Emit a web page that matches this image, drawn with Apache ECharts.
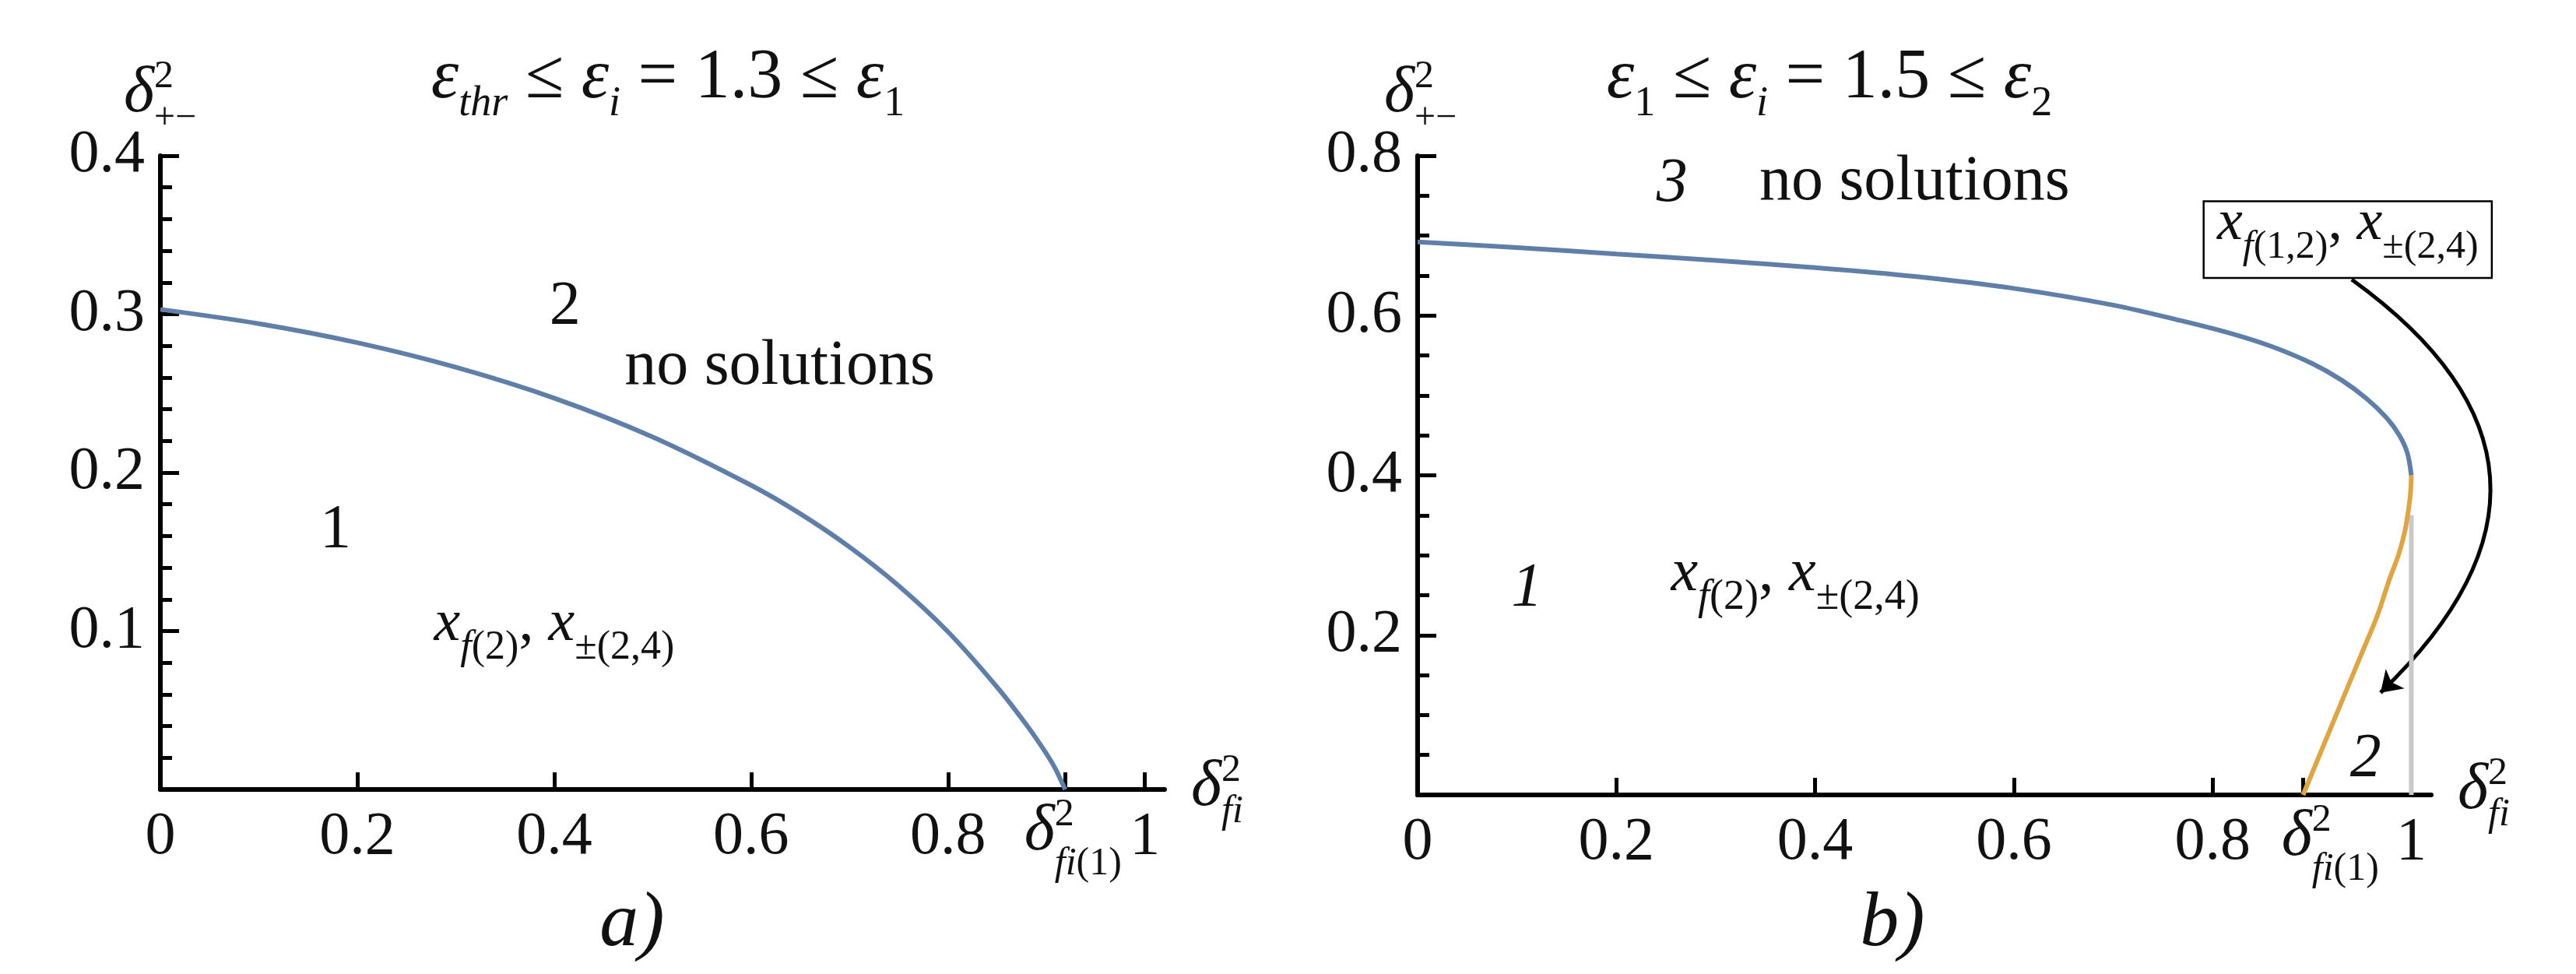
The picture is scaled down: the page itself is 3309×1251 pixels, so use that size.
<!DOCTYPE html>
<html>
<head>
  <meta charset="utf-8">
  <title>delta diagrams</title>
  <script src="https://cdn.jsdelivr.net/npm/echarts@6.0.0/dist/echarts.min.js"></script>
  <style>
    html, body { margin: 0; padding: 0; background: #fff; }
    #main { width: 3309px; height: 1251px; }
  </style>
</head>
<body>
<div id="main"></div>
<script>
  // panel a)  eps_i = 1.3 : border of region 1
  var aCurveX = [0, 0.1, 0.2, 0.3, 0.4, 0.5, 0.6, 0.65, 0.7, 0.75, 0.8, 0.85, 0.88, 0.9, 0.91, 0.919];
  var aCurveY = [0.303, 0.294, 0.282, 0.2665, 0.247, 0.2225, 0.192, 0.174, 0.153, 0.1285, 0.0995, 0.0645, 0.0405, 0.0225, 0.012, 0];

  // panel b)  eps_i = 1.5 : upper (blue), lower (orange) and edge (gray) borders
  var bUpperX = [0, 0.1, 0.2, 0.3, 0.4, 0.5, 0.6, 0.7, 0.77, 0.82, 0.86, 0.9, 0.93, 0.955, 0.975, 0.988, 0.996, 1.0];
  var bUpperY = [0.692, 0.685, 0.677, 0.669, 0.660, 0.649, 0.634, 0.613, 0.593, 0.577, 0.561, 0.540, 0.519, 0.496, 0.472, 0.450, 0.428, 0.40];
  var bLowerX = [0.891, 0.906, 0.921, 0.936, 0.951, 0.966, 0.978, 0.987, 0.9935, 0.9975, 0.9993, 1.0];
  var bLowerY = [0, 0.045, 0.09, 0.135, 0.18, 0.225, 0.27, 0.30, 0.33, 0.36, 0.38, 0.40];
  var bEdgeX = [1, 1];
  var bEdgeY = [0, 0.35];

  // arrow from the boxed label into region 2 (data coords of panel b)
  var arrowFrom = [0.94, 0.645];
  var arrowTo = [0.969, 0.128];

  var xTickLabels = [0, 0.2, 0.4, 0.6, 0.8, 1];

  var FONT = 'Liberation Serif';
  var BLUE = '#5F7FA8', ORANGE = '#DDA545', GRAY = '#C9C9C9';

  function zip(xs, ys) {
    return xs.map(function (x, i) { return [x, ys[i]]; });
  }

  function mkX(g, deltaTick) {
    return {
      type: 'value', gridIndex: g, min: 0, max: 1.02,
      axisLine: { onZero: false, lineStyle: { color: '#000', width: 6 } },
      axisTick: {
        inside: true, length: 22, lineStyle: { color: '#000', width: 5 },
        customValues: [0.2, 0.4, 0.6, 0.8, deltaTick, 1]
      },
      axisLabel: {
        customValues: xTickLabels, fontFamily: FONT, fontSize: 78, color: '#111', margin: 23,
        formatter: function (v) { return String(+(+v).toFixed(2)); }
      },
      splitLine: { show: false }
    };
  }

  function mkY(g, max, step, minor) {
    return {
      type: 'value', gridIndex: g, min: 0, max: max, interval: step,
      axisLine: { show: true, onZero: false, lineStyle: { color: '#000', width: 6 } },
      axisTick: { show: true, inside: true, length: 24, lineStyle: { color: '#000', width: 5 } },
      minorTick: { show: true, splitNumber: minor, length: 15, lineStyle: { color: '#000', width: 5 } },
      axisLabel: {
        showMinLabel: false, fontFamily: FONT, fontSize: 78, color: '#111', margin: 20,
        formatter: function (v) { return String(+(+v).toFixed(2)); }
      },
      splitLine: { show: false }
    };
  }

  var chart = echarts.init(document.getElementById('main'));

  var option = {
    animation: false,
    backgroundColor: '#fff',
    textStyle: { fontFamily: FONT },
    grid: [
      { left: 206, top: 200, width: 1290, height: 814 },
      { left: 1821, top: 200, width: 1302, height: 821 }
    ],
    xAxis: [mkX(0, aCurveX[aCurveX.length - 1]), mkX(1, bLowerX[0])],
    yAxis: [mkY(0, 0.4, 0.1, 5), mkY(1, 0.8, 0.2, 4)],
    series: [
      {
        type: 'line', xAxisIndex: 0, yAxisIndex: 0, data: zip(aCurveX, aCurveY),
        showSymbol: false, smooth: 0.3, lineStyle: { color: BLUE, width: 6 }
      },
      {
        type: 'line', xAxisIndex: 1, yAxisIndex: 1, data: zip(bEdgeX, bEdgeY),
        showSymbol: false, lineStyle: { color: GRAY, width: 6 }
      },
      {
        type: 'line', xAxisIndex: 1, yAxisIndex: 1, data: zip(bLowerX, bLowerY),
        showSymbol: false, smooth: 0.3, lineStyle: { color: ORANGE, width: 6 }
      },
      {
        type: 'line', xAxisIndex: 1, yAxisIndex: 1, data: zip(bUpperX, bUpperY),
        showSymbol: false, smooth: 0.3, lineStyle: { color: BLUE, width: 6 }
      },
      {
        type: 'lines', coordinateSystem: 'cartesian2d', xAxisIndex: 1, yAxisIndex: 1,
        clip: false, symbol: ['none', 'arrow'], symbolSize: 26,
        lineStyle: { color: '#000', width: 5, curveness: 0.6, opacity: 1 },
        data: [{ coords: [arrowFrom, arrowTo] }]
      }
    ]
  };
  chart.setOption(option);

  // ---- math-like text built from runs (base / sup / sub) ----
  var meas = document.createElement('canvas').getContext('2d');

  function mathText(p, runs, anchor) {
    var kids = [], cx = 0, start = 0, right = 0;
    runs.forEach(function (r) {
      var s = r.s || 80;
      if (r.stack) { cx = start; } else { cx = Math.max(cx, right); start = cx; }
      var f = (r.i ? 'italic ' : '') + s + 'px ' + FONT;
      meas.font = f;
      var w = meas.measureText(r.t).width;
      kids.push({
        type: 'text', x: cx + (r.dx || 0), y: -(r.up || 0) - 0.34 * s,
        style: {
          text: r.t, fontFamily: FONT, fontSize: s, fontStyle: r.i ? 'italic' : 'normal', fill: '#111',
          textAlign: 'left', textVerticalAlign: 'middle', align: 'left', verticalAlign: 'middle'
        }
      });
      cx += w + (r.dx || 0);
      right = Math.max(right, cx);
    });
    var off = anchor === 'center' ? right / 2 : (anchor === 'right' ? right : 0);
    return { type: 'group', x: p[0] - off, y: p[1], silent: true, children: kids };
  }

  function px(g, x, y) { return chart.convertToPixel({ gridIndex: g }, [x, y]); }

  var yName = [{ t: 'δ', i: 1, s: 84 }, { t: '2', s: 50, up: 33 }, { t: '+−', s: 48, up: -20, stack: 1 }];
  var xName = [{ t: 'δ', i: 1, s: 84 }, { t: '2', s: 50, up: 33 }, { t: 'fi', i: 1, s: 50, up: -20, stack: 1 }];
  var dFi1 = [{ t: 'δ', i: 1, s: 84 }, { t: '2', s: 50, up: 33 }, { t: 'fi', i: 1, s: 50, up: -30, stack: 1 }, { t: '(1)', s: 50, up: -30 }];
  function xPair(first, s, ss) {
    return [
      { t: 'x', i: 1, s: s }, { t: 'f', i: 1, s: ss, up: -22 }, { t: first, s: ss, up: -22 },
      { t: ', ', s: s }, { t: 'x', i: 1, s: s }, { t: '±(2,4)', s: ss, up: -22 }
    ];
  }
  var titleA = [
    { t: 'ε', i: 1, s: 90 }, { t: 'thr', i: 1, s: 54, up: -20 }, { t: ' ≤ ', s: 90 },
    { t: 'ε', i: 1, s: 90 }, { t: 'i', i: 1, s: 54, up: -20 }, { t: ' = 1.3 ≤ ', s: 90 },
    { t: 'ε', i: 1, s: 90 }, { t: '1', s: 54, up: -20 }
  ];
  var titleB = [
    { t: 'ε', i: 1, s: 90 }, { t: '1', s: 54, up: -20 }, { t: ' ≤ ', s: 90 },
    { t: 'ε', i: 1, s: 90 }, { t: 'i', i: 1, s: 54, up: -20 }, { t: ' = 1.5 ≤ ', s: 90 },
    { t: 'ε', i: 1, s: 90 }, { t: '2', s: 54, up: -20 }
  ];

  var boxLT = px(1, 0.791, 0.743), boxRB = px(1, 1.081, 0.647);
  var dA = px(0, aCurveX[aCurveX.length - 1], 0), dB = px(1, bLowerX[0], 0);

  var graphics = [
    // panel a)
    mathText([159, 149], yName),
    mathText([858, 132], titleA, 'center'),
    mathText(px(0, 0.411, 0.291), [{ t: '2' }], 'center'),
    mathText(px(0, 0.629, 0.253), [{ t: 'no solutions', s: 82 }], 'center'),
    mathText(px(0, 0.178, 0.150), [{ t: '1' }], 'center'),
    mathText(px(0, 0.278, 0.0914), xPair('(2)', 76, 52)),
    mathText([dA[0] + 10, 1097], dFi1, 'center'),
    mathText([1530, 1040], xName),
    mathText([812, 1222], [{ t: 'a)', i: 1, s: 100 }], 'center'),
    // panel b)
    mathText([1778, 149], yName),
    mathText([2350, 132], titleB, 'center'),
    mathText(px(1, 0.256, 0.737), [{ t: '3', i: 1 }], 'center'),
    mathText(px(1, 0.5, 0.739), [{ t: 'no solutions', s: 82 }], 'center'),
    mathText(px(1, 0.110, 0.231), [{ t: '1', i: 1 }], 'center'),
    mathText(px(1, 0.255, 0.250), xPair('(2)', 78, 54)),
    mathText(px(1, 0.954, 0.0175), [{ t: '2', i: 1 }], 'center'),
    {
      type: 'rect', silent: true,
      shape: { x: boxLT[0], y: boxLT[1], width: boxRB[0] - boxLT[0], height: boxRB[1] - boxLT[1] },
      style: { fill: '#fff', stroke: '#000', lineWidth: 2.5 }
    },
    mathText(px(1, 0.936, 0.690), xPair('(1,2)', 74, 50), 'center'),
    mathText([dB[0] + 35, 1104], dFi1, 'center'),
    mathText([3157, 1044], xName),
    mathText([2431, 1222], [{ t: 'b)', i: 1, s: 100 }], 'center')
  ];

  chart.setOption({ graphic: graphics });
</script>
</body>
</html>
